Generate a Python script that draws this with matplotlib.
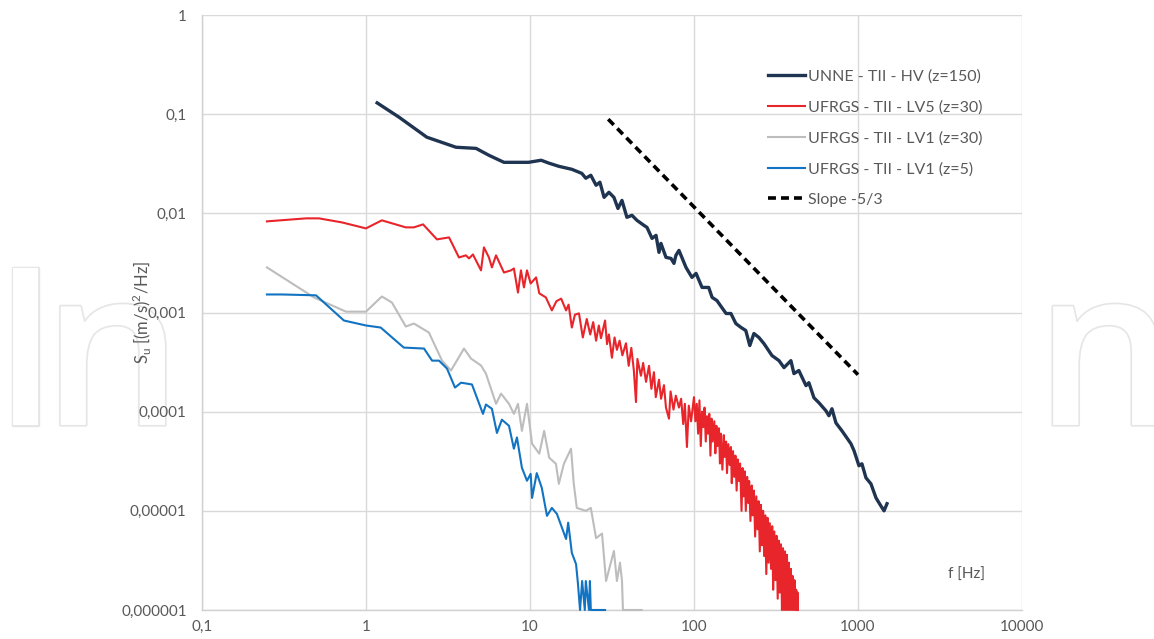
import matplotlib
matplotlib.use("Agg")
import matplotlib.pyplot as plt
import matplotlib.patheffects as pe

# ---- data ----
navy_f = [1.17, 1.59, 2.35, 3.54, 4.69, 5.62, 6.94, 9.8, 11.7, 13.1, 15.0, 18.0, 20.7, 21.9,
          23.5, 25.3, 26.7, 28.3, 30.3, 32.5, 34.4, 36.4, 39.0, 41.9, 44.9, 49.5, 51.7, 55.5,
          58.7, 61.2, 62.9, 67.5, 72.4, 75.5, 77.6, 81.0, 89.4, 97.2, 103, 112, 123, 129, 138,
          148, 157, 168, 180, 194, 207, 219, 232, 249, 267, 299, 330, 354, 390, 407, 436, 482,
          502, 539, 578, 638, 665, 694, 734, 799, 906, 946, 1014, 1057, 1119, 1200, 1288,
          1380, 1442, 1503]
navy_s = [0.130, 0.0933, 0.0586, 0.0464, 0.0452, 0.0385, 0.0327, 0.0327, 0.0343, 0.0320,
          0.0298, 0.0278, 0.0253, 0.0226, 0.0242, 0.0192, 0.0206, 0.0145, 0.0163, 0.0145,
          0.0112, 0.0135, 0.00912, 0.00955, 0.00850, 0.00757, 0.00722, 0.00559, 0.00600,
          0.00404, 0.00498, 0.00360, 0.00351, 0.00313, 0.00377, 0.00423, 0.00285, 0.00226,
          0.00248, 0.00179, 0.00179, 0.00142, 0.00132, 0.00112, 0.000977, 0.000977, 0.000774,
          0.000705, 0.000658, 0.000464, 0.000614, 0.000559, 4.86e-4, 3.68e-4, 3.27e-4,
          2.78e-4, 3.27e-4, 2.42e-4, 2.60e-4, 1.83e-4, 1.96e-4, 1.38e-4, 1.23e-4, 1.02e-4,
          9.1e-5, 1.07e-4, 7.7e-5, 6.4e-5, 4.75e-5, 4.04e-5, 2.85e-5, 2.98e-5, 2.15e-5,
          1.87e-5, 1.35e-5, 1.12e-5, 1.0e-5, 1.18e-5]

red_f = [0.249, 0.431, 0.517, 0.714, 1.0, 1.25, 1.75, 1.96, 2.23, 2.71, 3.21, 3.69, 4.07,
         4.25, 4.49, 5.03, 5.24, 5.62, 5.86, 6.21, 6.94, 7.66, 7.98, 8.45, 8.81, 9.19, 9.59,
         10.1, 10.9, 11.4, 12.5, 13.6, 14.5, 15.5, 16.6, 17.2, 18.0, 18.8,
         19.9, 21.0, 22.2, 23.3, 24.3, 25.3, 26.3, 27.1, 28.7, 29.5, 30.3, 31.6, 32.8, 33.9,
         35.2, 36.6, 38.5, 40.0, 41.5, 43.0, 44.3, 45.2, 47.5, 49.0, 51.0, 53.2, 55.0, 57.0,
         58.5, 61.2, 63.0, 65.6, 67.5, 70.4, 72.0, 75.0, 77.5, 81.0, 83.5, 86.0, 88.0, 90.6,
         93.0, 96.0,
         100, 102, 104, 106, 108, 110, 112, 114, 116, 118, 120, 122, 124, 126, 128, 130, 133,
         135, 137, 139, 142, 144, 146, 149, 152, 154, 157, 159, 162, 165, 168, 170, 173, 176,
         179, 182, 185, 188, 191, 195, 198, 201, 204, 207, 211, 214, 217, 221, 225, 228, 232,
         236, 240, 244, 248, 252, 256, 260, 264, 268, 272, 276, 281, 285, 290, 295, 300, 304,
         309, 314, 319, 324, 329, 334, 339, 344, 349, 354, 359, 364, 369, 374, 379, 384, 390,
         395, 400, 405, 410, 415, 420, 425, 428, 430]
red_s = [0.0083, 0.0089, 0.0089, 0.0081, 0.00705, 0.0085, 0.00722, 0.00722, 0.00774, 0.00546,
         0.00572, 0.00359, 0.00377, 0.00351, 0.00385, 0.00266, 0.00454, 0.00359, 0.00285,
         0.00377, 0.00253, 0.00266, 0.00278, 0.00159, 0.00266, 0.00179, 0.00266, 0.00196,
         0.00226, 0.00156, 0.00142, 0.00105, 0.0013, 0.00138, 0.00105, 0.0012, 0.000705,
         0.00095,
         9.8e-4, 5.6e-4, 8.6e-4, 6.0e-4, 8.0e-4, 5.2e-4, 7.4e-4, 5.5e-4, 8.3e-4, 4.8e-4,
         6.0e-4, 3.5e-4, 5.6e-4, 4.2e-4, 5.2e-4, 3.7e-4, 4.9e-4, 2.9e-4, 4.4e-4, 2.6e-4,
         1.25e-4, 3.4e-4, 2.3e-4, 3.1e-4, 2.0e-4, 2.9e-4, 1.7e-4, 2.5e-4, 1.4e-4, 2.1e-4,
         1.35e-4, 1.85e-4, 1.1e-4, 8.5e-5, 1.6e-4, 1.05e-4, 1.45e-4, 1.1e-4, 1.35e-4, 7.5e-5,
         1.2e-4, 4.4e-5, 1.15e-4, 8.0e-5,
         1.4e-4, 8.0e-5, 1.2e-4, 6.0e-5, 1.3e-4, 4.5e-5, 1.0e-4, 7.0e-5, 1.1e-4, 5.0e-5,
         9.0e-5, 6.0e-5, 9.5e-5, 3.6e-5, 8.5e-5, 5.0e-5, 8.0e-5, 3.8e-5, 7.2e-5, 4.5e-5,
         6.8e-5, 3.0e-5, 6.0e-5, 2.6e-5, 5.8e-5, 3.5e-5, 5.0e-5, 2.4e-5, 4.7e-5, 2.9e-5,
         4.4e-5, 1.9e-5, 4.0e-5, 2.2e-5, 3.6e-5, 1.6e-5, 3.3e-5, 2.0e-5, 3.0e-5, 1.0e-5,
         2.7e-5, 1.4e-5, 2.5e-5, 1.0e-5, 2.2e-5, 1.2e-5, 2.0e-5, 7.9e-6, 1.8e-5, 9.0e-6,
         1.6e-5, 5.5e-6, 1.4e-5, 6.5e-6, 1.25e-5, 3.9e-6, 1.15e-5, 4.5e-6, 1.0e-5, 3.5e-6,
         9.0e-6, 2.3e-6, 8.5e-6, 3.0e-6, 7.5e-6, 2.6e-6, 7.0e-6, 1.6e-6, 6.2e-6, 2.0e-6,
         5.6e-6, 1.3e-6, 5.0e-6, 1.5e-6, 4.6e-6, 1e-6, 4.2e-6, 1e-6, 3.9e-6, 1e-6, 3.6e-6,
         1e-6, 3.0e-6, 1e-6, 2.6e-6, 1e-6, 2.2e-6, 1e-6, 2.0e-6, 1e-6, 1.6e-6, 1e-6, 1.5e-6,
         1e-6]

gray_f = [0.249, 0.482, 0.755, 1.0, 1.25, 1.44, 1.75, 1.96, 2.42, 2.91, 3.30, 3.96, 4.37,
          5.03, 5.39, 6.21, 6.66, 7.45, 7.98, 8.45, 8.93, 9.59, 10.3, 11.4, 12.2, 13.1, 14.4,
          15.0, 16.1, 17.8, 18.5, 19.3, 21.9, 23.5, 25.3, 27.5, 29.1, 32.5, 33.9, 35.4, 36.4,
          36.9, 48.0]
gray_s = [0.00285, 0.00142, 0.00102, 0.00102, 0.00145, 0.00126, 0.000722, 0.000774, 0.000628,
          0.000327, 0.00026, 0.000433, 0.000343, 0.000292, 0.000242, 0.00012, 0.000152,
          0.00012, 9.5e-5, 0.00012, 6.4e-5, 0.00012, 4.75e-5, 3.77e-5, 6.4e-5, 3.43e-5,
          2.98e-5, 1.87e-5, 2.98e-5, 4.23e-5, 1.87e-5, 1.07e-5, 1.0e-5, 1.07e-5, 5.3e-6,
          5.9e-6, 1.96e-6, 3.94e-6, 1.96e-6, 3.0e-6, 1.96e-6, 1e-6, 1e-6]

blue_f = [0.249, 0.308, 0.496, 0.734, 1.0, 1.23, 1.70, 2.26, 2.53, 2.79, 3.12, 3.49, 3.80,
          4.43, 5.17, 5.39, 5.86, 6.29, 6.74, 7.45, 7.98, 8.33, 8.93, 9.59, 10.1, 10.3, 11.0,
          11.8, 12.7, 13.6, 14.6, 15.7, 16.6, 17.1, 18.0, 19.1, 19.6, 20.2, 20.8, 21.6, 21.9,
          22.9, 23.2, 23.5, 28.7]
blue_s = [0.00152, 0.00152, 0.00149, 0.00083, 0.00074, 0.000705, 0.000443, 0.000433,
          0.000327, 0.000327, 0.000272, 0.000175, 0.000196, 0.000188, 9.5e-5, 1.18e-4,
          1.07e-4, 6.1e-5, 8.3e-5, 7.2e-5, 4.23e-5, 5.5e-5, 2.72e-5, 2.01e-5, 2.36e-5,
          1.35e-5, 2.4e-5, 1.71e-5, 8.9e-6, 1.07e-5, 9.3e-6, 6.7e-6, 5.2e-6, 7.6e-6, 3.77e-6,
          2.9e-6, 1.87e-6, 1e-6, 1.96e-6, 1e-6, 1.96e-6, 1e-6, 1.96e-6, 1e-6, 1e-6]

slope_f = [30, 1000]
slope_s = [0.089, 0.000236]

labels = ["UNNE - TII - HV (z=150)", "UFRGS - TII - LV5 (z=30)", "UFRGS - TII - LV1 (z=30)",
          "UFRGS - TII - LV1 (z=5)", "Slope -5/3"]

x_ticks = [0.1, 1, 10, 100, 1000, 10000]
x_ticklabels = ["0,1", "1", "10", "100", "1000", "10000"]
y_ticks = [1e-6, 1e-5, 1e-4, 1e-3, 1e-2, 1e-1, 1]
y_ticklabels = ["0,000001", "0,00001", "0,0001", "0,001", "0,01", "0,1", "1"]


def plot_spectra():
    plt.rcParams['font.family'] = ['Lato', 'DejaVu Sans']
    txt = '#595959'
    fig = plt.figure(figsize=(11.54, 6.39), dpi=100)

    # publisher watermark, only its ends show outside the white plot area
    wm = dict(fontsize=158, color='white', zorder=-5, family='Open Sans', fontweight='semibold',
              va='baseline', path_effects=[pe.withStroke(linewidth=2.5, foreground='#e6e6e6')])
    fig.text(-0.007, 0.335, "I", **wm)
    fig.text(0.037, 0.335, "n", **wm)
    fig.text(0.897, 0.335, "n", **wm)

    ax = fig.add_axes([0.175, 0.0454, 0.7106, 0.9311])
    ax.set_facecolor('white')
    ax.set_xscale('log')
    ax.set_yscale('log')
    ax.set_xlim(0.1, 10000)
    ax.set_ylim(1e-6, 1)

    ax.plot(navy_f, navy_s, color='#1f3450', lw=2.4, label=labels[0], zorder=5)
    ax.plot(red_f, red_s, color='#e8252b', lw=1.5, label=labels[1], zorder=4, clip_on=False)
    ax.plot(gray_f, gray_s, color='#bdbdbd', lw=1.5, label=labels[2], zorder=3, clip_on=False)
    ax.plot(blue_f, blue_s, color='#1273c2', lw=1.5, label=labels[3], zorder=3, clip_on=False)
    ax.plot(slope_f, slope_s, color='black', lw=2.6, ls=(0, (2.2, 1.4)), label=labels[4], zorder=6)

    ax.set_xticks(x_ticks)
    ax.set_xticklabels(x_ticklabels)
    ax.set_yticks(y_ticks)
    ax.set_yticklabels(y_ticklabels)
    ax.minorticks_off()
    ax.tick_params(axis='both', length=0, labelsize=11, labelcolor=txt)
    ax.tick_params(axis='y', pad=11)
    ax.tick_params(axis='x', pad=7)
    ax.grid(True, color='#d9d9d9', lw=1.0)
    ax.set_axisbelow(True)
    for side in ['top', 'right']:
        ax.spines[side].set_visible(False)
    for side in ['left', 'bottom']:
        ax.spines[side].set_color('#d0d0d0')
        ax.spines[side].set_linewidth(1.0)

    ax.set_ylabel(r'S$_\mathregular{u}$ [(m/s)$^\mathregular{2}$/Hz]', fontsize=12, color=txt)
    ax.yaxis.set_label_coords(-0.058, 0.5)
    ax.text(0.932, 0.059, 'f [Hz]', transform=ax.transAxes, fontsize=11, color=txt,
            ha='center', va='center')

    leg = ax.legend(loc='upper left', bbox_to_anchor=(0.683, 0.919), frameon=False,
                    fontsize=11.5, handlelength=2.3, handletextpad=0.2, labelspacing=1.03,
                    borderaxespad=0)
    for t in leg.get_texts():
        t.set_color(txt)

    fig.savefig('out.png', dpi=100, facecolor='white')


def main():
    plot_spectra()


if __name__ == "__main__":
    main()
